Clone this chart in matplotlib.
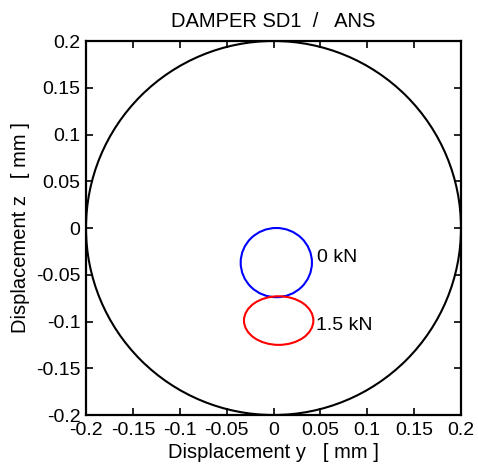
import matplotlib
matplotlib.use("Agg")
import matplotlib.pyplot as plt
from matplotlib.patches import Ellipse

plt.rcParams['font.family'] = ['Liberation Sans', 'DejaVu Sans']
plt.rcParams['axes.unicode_minus'] = False

# data
boundary_center = (0.0, 0.0)
boundary_radius = 0.2
orbit_labels = ["0 kN", "1.5 kN"]
orbit_centers = [(0.003, -0.037), (0.0055, -0.099)]
orbit_widths = [0.076, 0.074]   # full width (y direction)
orbit_heights = [0.074, 0.052]  # full height (z direction)
orbit_colors = ["#0000ff", "#ff0000"]
label_pos = [(0.046, -0.032), (0.045, -0.104)]
ticks = [-0.2, -0.15, -0.1, -0.05, 0, 0.05, 0.1, 0.15, 0.2]
tick_labels = ["-0.2", "-0.15", "-0.1", "-0.05", "0", "0.05", "0.1", "0.15", "0.2"]

fig = plt.figure(figsize=(4.78, 4.67), dpi=100)
ax = fig.add_axes([86/478, 1-415/467, (461-86)/478, (415-41)/467])

ax.add_patch(Ellipse(boundary_center, 2*boundary_radius, 2*boundary_radius,
                     fill=False, edgecolor='black', lw=1.5))
for c, w, h, col in zip(orbit_centers, orbit_widths, orbit_heights, orbit_colors):
    ax.add_patch(Ellipse(c, w, h, fill=False, edgecolor=col, lw=1.5))
for txt, (x, y) in zip(orbit_labels, label_pos):
    ax.text(x, y, txt, fontsize=14, ha='left', va='center')

ax.set_xlim(-0.2, 0.2)
ax.set_ylim(-0.2, 0.2)
ax.set_xticks(ticks)
ax.set_xticklabels(tick_labels)
ax.set_yticks(ticks)
ax.set_yticklabels(tick_labels)
ax.tick_params(direction='in', length=5, width=1.2, top=True, right=True,
               labelsize=14, colors='black')
ax.tick_params(axis='x', pad=5)
ax.tick_params(axis='y', pad=4)
for s in ax.spines.values():
    s.set_linewidth(1.6)

ax.set_title("DAMPER SD1  /   ANS", fontsize=14.5, pad=10)
ax.set_xlabel("Displacement y   [ mm ]", fontsize=14.5, labelpad=3)
ax.set_ylabel("Displacement z   [ mm ]", fontsize=14.5, labelpad=4)

fig.savefig("out.png", dpi=100)
